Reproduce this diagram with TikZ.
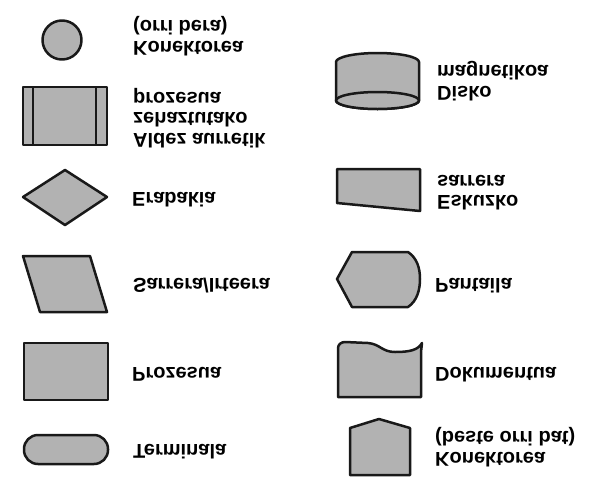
\documentclass[tikz,border=0pt]{standalone}
\usepackage{fontspec}
\setmainfont{Liberation Sans}
\usepackage{graphicx}

\colorlet{FilledSymbol}{black!30}
\colorlet{SymbolBorder}{black!90}

\newcommand{\upsidedown}[1]{\scalebox{1}[-1]{\begin{tabular}{@{}l@{}}#1\end{tabular}}}

\tikzset{
    symbol/.style={fill=FilledSymbol, draw=SymbolBorder, line width=2.5pt, line join=round},
    legend/.style={anchor=west, inner sep=0pt, font=\fontsize{20}{20}\selectfont\bfseries}
}

\begin{document}
\begin{tikzpicture}[x=1pt, y=-1pt]
    \useasboundingbox (0,0) rectangle (598,488);

    % left column
    \draw[symbol] (62,40) circle[radius=19.5pt];
    \draw[symbol] (23,87) rectangle (107,145);
    \draw[symbol] (33,87) -- (33,145);
    \draw[symbol] (96,87) -- (96,145);
    \draw[symbol] (23,197) -- (65,170) -- (107,197) -- (65,225) -- cycle;
    \draw[symbol] (23,256) -- (90,256) -- (107,312) -- (40,312) -- cycle;
    \draw[symbol] (24,343) rectangle (108,400);
    \draw[symbol, rounded corners=14pt] (24,435) rectangle (108,464);

    \node[legend] (connector) at (133,35) {\upsidedown{Konektorea\\(orri bera)}};
    \node[legend] (predefined) at (133,117) {\upsidedown{Aldez aurretik\\zehaztutako\\prozesua}};
    \node[legend] (decision) at (132,197) {\upsidedown{Erabakia}};
    \node[legend] (inout) at (133,283) {\upsidedown{Sarrera/Irteera}};
    \node[legend] (process) at (132,371) {\upsidedown{Prozesua}};
    \node[legend] (terminal) at (133,449) {\upsidedown{Terminala}};

    % right column
    \draw[symbol] (336,62) arc[start angle=180, end angle=0, x radius=41.5pt, y radius=9pt]
        -- (419,100.5) arc[start angle=0, end angle=-180, x radius=41.5pt, y radius=8.5pt] -- cycle;
    \draw[symbol] (377.5,100.5) ellipse[x radius=41.5pt, y radius=8.5pt];
    \draw[symbol] (337,169) -- (420,169) -- (420,211) -- (337,203) -- cycle;
    \draw[symbol] (352,252) -- (408,252) .. controls (417,258) and (420,268) .. (420,279)
        .. controls (420,290) and (417,301) .. (408,307) -- (352,307) -- (337,279) -- cycle;
    \draw[symbol] (338,397) -- (338,348) to[out=90, in=180] (345,342) -- (368,343)
        .. controls (380,344) and (382,352) .. (395,352)
        .. controls (410,352) and (418,350) .. (422,343) -- (421,352) -- (421,397) -- cycle;
    \draw[symbol] (350,475) -- (350,428) -- (379,419) -- (410,428) -- (410,475) -- cycle;

    \node[legend] (disk) at (437,80) {\upsidedown{Disko\\magnetikoa}};
    \node[legend] (manual) at (437,190) {\upsidedown{Eskuzko\\sarrera}};
    \node[legend] (display) at (435,283) {\upsidedown{Pantaila}};
    \node[legend] (document) at (435,372) {\upsidedown{Dokumentua}};
    \node[legend] (offpage) at (435,446) {\upsidedown{Konektorea\\(beste orri bat)}};
\end{tikzpicture}
\end{document}
